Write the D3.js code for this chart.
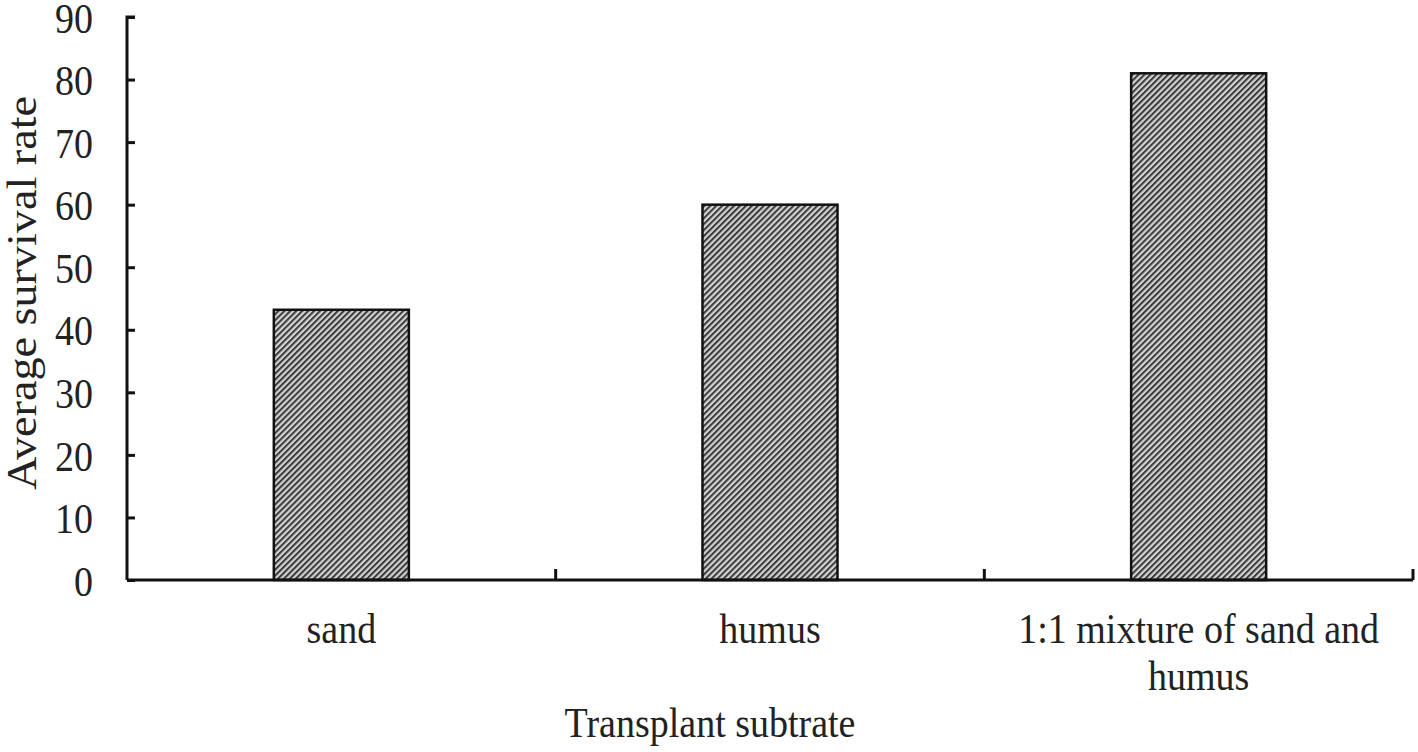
<!DOCTYPE html>
<html>
<head>
<meta charset="utf-8">
<script src="https://cdn.jsdelivr.net/npm/d3@7"></script>
<style>
  body { margin: 0; background: #fff; }
  text { font-family: "Liberation Serif", "Times New Roman", serif; fill: #222; }
</style>
</head>
<body>
<svg id="chart"></svg>
<script>
var width = 1418; // canvas size
var height = 752;

// data
var categories = ["sand", "humus", "1:1 mixture of sand and humus"];
var survival = [43.2, 60, 81];
var yTicks = [0, 10, 20, 30, 40, 50, 60, 70, 80, 90];
var xTitle = "Transplant subtrate";
var yTitle = "Average survival rate";

var x0 = 127, x1 = 1413; // plot edges
var y0 = 580, y1 = 17;
var fontSize = 38;
var stretch = 1.1; // the text looks a bit taller than wide

var svg = d3.select("#chart").attr("width", width).attr("height", height);

// hatch fill for the bars
var defs = svg.append("defs");
var pat = defs.append("pattern")
  .attr("id", "hatch")
  .attr("patternUnits", "userSpaceOnUse")
  .attr("width", 4.2).attr("height", 4.2)
  .attr("patternTransform", "rotate(45)");
pat.append("rect").attr("width", 4.2).attr("height", 4.2).attr("fill", "#d2d2d2");
pat.append("rect").attr("width", 2).attr("height", 4.2).attr("fill", "#3a3a3a");

var x = d3.scaleBand().domain(categories).range([x0, x1]).padding(0);
var y = d3.scaleLinear().domain([0, 90]).range([y0, y1]);

var barW = x.bandwidth() * 0.315;

// bars
svg.append("g").selectAll("rect")
  .data(categories)
  .enter().append("rect")
  .attr("x", function(d) { return x(d) + x.bandwidth() / 2 - barW / 2; })
  .attr("y", function(d, i) { return y(survival[i]); })
  .attr("width", barW)
  .attr("height", function(d, i) { return y0 - y(survival[i]); })
  .attr("fill", "url(#hatch)")
  .attr("stroke", "#111")
  .attr("stroke-width", 2.5);

// y axis, ticks point inward
var yAxis = svg.append("g").attr("transform", "translate(" + x0 + ",0)")
  .call(d3.axisRight(y).tickValues(yTicks).tickSize(8).tickFormat(""));
yAxis.select(".domain").attr("d", "M0," + y0 + "V" + y1 + "h8");
yAxis.selectAll("line, path").attr("stroke", "#111").attr("stroke-width", 3);

svg.append("g").selectAll("text")
  .data(yTicks)
  .enter().append("text")
  .attr("text-anchor", "end")
  .attr("font-size", fontSize)
  .attr("transform", function(d) { return "translate(93," + (y(d) + 1) + ") scale(1," + stretch + ")"; })
  .attr("dy", "0.35em")
  .text(function(d) { return d; });

// x axis: ticks at the band edges, pointing up
var edges = categories.map(function(d) { return x(d); }).concat([x1]);
svg.append("line")
  .attr("x1", x0).attr("x2", x1).attr("y1", y0).attr("y2", y0)
  .attr("stroke", "#111").attr("stroke-width", 3);
svg.append("g").selectAll("line")
  .data(edges.slice(1))
  .enter().append("line")
  .attr("x1", function(d) { return d; }).attr("x2", function(d) { return d; })
  .attr("y1", y0).attr("y2", y0 - 11)
  .attr("stroke", "#111").attr("stroke-width", 3);

// category labels, wrapped to the band
var labels = svg.append("g").selectAll("g")
  .data(categories)
  .enter().append("g")
  .attr("transform", function(d) { return "translate(" + (x(d) + x.bandwidth() / 2) + ",643) scale(1," + stretch + ")"; });

labels.each(function(d) {
  var g = d3.select(this);
  var words = d.split(" ");
  var lines = [];
  var line = [];
  var probe = g.append("text").attr("font-size", fontSize);
  words.forEach(function(w) {
    line.push(w);
    probe.text(line.join(" "));
    if (probe.node().getComputedTextLength() > x.bandwidth() - 20 && line.length > 1) {
      line.pop();
      lines.push(line.join(" "));
      line = [w];
    }
  });
  lines.push(line.join(" "));
  probe.remove();
  lines.forEach(function(t, i) {
    g.append("text")
      .attr("text-anchor", "middle")
      .attr("font-size", fontSize)
      .attr("y", i * 42.7)
      .text(t);
  });
});

// axis titles
svg.append("text")
  .attr("text-anchor", "middle")
  .attr("font-size", fontSize)
  .attr("transform", "translate(710,737) scale(1," + stretch + ")")
  .text(xTitle);

svg.append("text")
  .attr("text-anchor", "middle")
  .attr("font-size", 42)
  .attr("transform", "translate(36,293) scale(1," + stretch + ") rotate(-90)")
  .text(yTitle);
</script>
</body>
</html>
